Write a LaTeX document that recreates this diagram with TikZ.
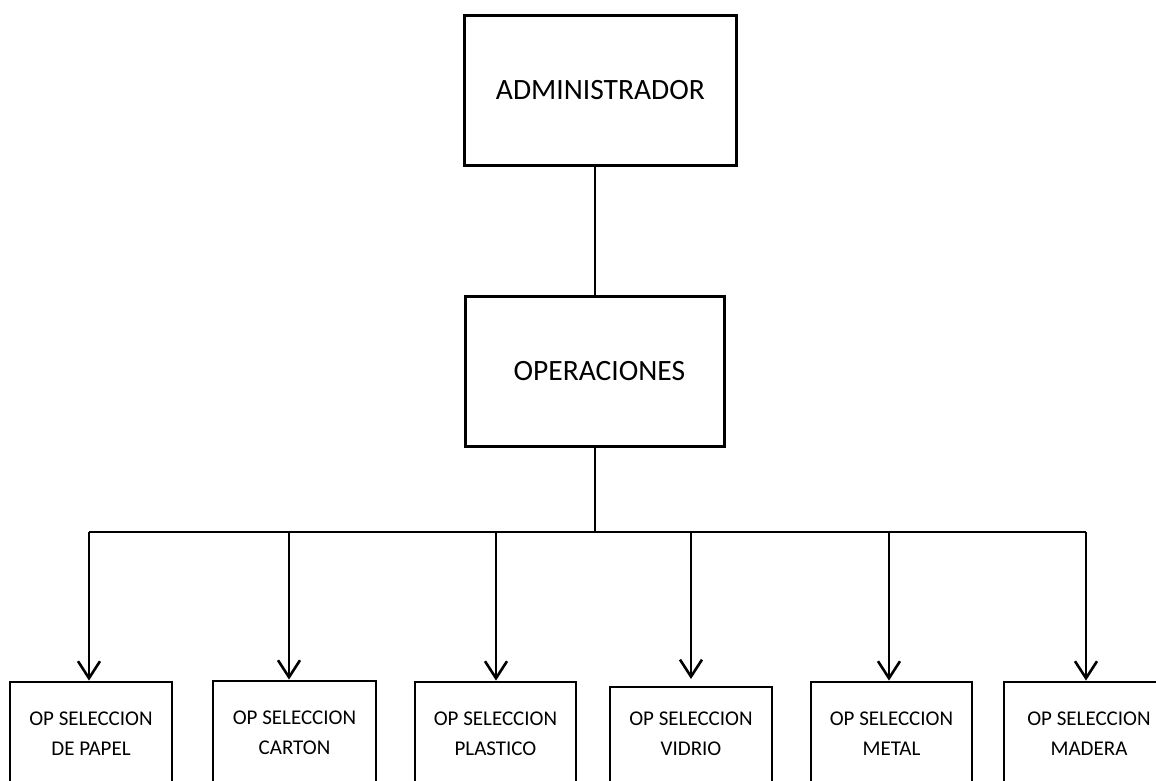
\documentclass[tikz,border=0pt]{standalone}
\usepackage{fontspec}
\setmainfont{Carlito}
\usetikzlibrary{arrows.meta}

\tikzset{
  topbox/.style={draw, line width=2.8pt, anchor=north west, inner sep=0pt,
    align=center, font=\fontsize{29.5}{34}\selectfont},
  leafbox/.style={anchor=north west, inner sep=0pt, outer sep=0pt,
    align=center, text depth=37pt, font=\fontsize{21}{29.5}\selectfont},
  frame/.style={line width=2.8pt, line join=miter},
  link/.style={line width=2.2pt},
  bus/.style={line width=2pt},
  drop/.style={line width=2.2pt,
    -{Straight Barb[length=17pt, width=22pt, line width=2.6pt]}}
}

\begin{document}
\begin{tikzpicture}[x=1pt, y=-1pt]
  \useasboundingbox (0,0) rectangle (1156,780);
  \fill[white] (0,0) rectangle (1156,780);
  \clip (0,0) rectangle (1156,780);

  % upper levels
  \node[topbox, minimum width=272pt, minimum height=150pt] (admin) at (463,14) {ADMINISTRADOR};
  \node[topbox, minimum width=259pt, minimum height=150pt] (oper) at (464,295) {\hspace*{9pt}OPERACIONES};

  % operator boxes (they run on past the lower edge of the sheet)
  \node[leafbox, minimum width=162pt, minimum height=140pt] (papel)    at (10,682)   {OP SELECCION\\DE PAPEL};
  \node[leafbox, minimum width=163pt, minimum height=140pt] (carton)   at (213,681)  {OP SELECCION\\CARTON};
  \node[leafbox, minimum width=161pt, minimum height=140pt] (plastico) at (415,682)  {OP SELECCION\\PLASTICO};
  \node[leafbox, minimum width=162pt, minimum height=130pt] (vidrio)   at (610,687)  {OP SELECCION\\VIDRIO};
  \node[leafbox, minimum width=161pt, minimum height=140pt] (metal)    at (811,682)  {OP SELECCION\\METAL};
  \node[leafbox, minimum width=170pt, minimum height=140pt] (madera)   at (1004,682) {OP SELECCION\\MADERA};

  \foreach \b in {papel, carton, plastico, vidrio, metal, madera}
    \draw[frame] (\b.south west) -- (\b.north west) -- (\b.north east) -- (\b.south east);

  % administrator to operations
  \draw[link] (oper.north |- admin.south) -- (oper.north);

  % taps on the distribution bus
  \coordinate (t1) at (89,532);
  \coordinate (t2) at (289,532);
  \coordinate (t3) at (496,532);
  \coordinate (t4) at (691,532);
  \coordinate (t5) at (889,532);
  \coordinate (t6) at (1086,532);
  \coordinate (hub) at (oper.south |- t1);

  % operations down to the bus, and the bus itself
  \draw[link] (oper.south) -- (hub);
  \draw[bus] (t1) -- (t6);

  \draw[drop] (t1) -- ([yshift=1.4pt]t1 |- papel.north);
  \draw[drop] (t2) -- ([yshift=1.4pt]t2 |- carton.north);
  \draw[drop] (t3) -- ([yshift=1.4pt]t3 |- plastico.north);
  \draw[drop] (t4) -- ([yshift=8pt]t4 |- vidrio.north);
  \draw[drop] (t5) -- ([yshift=1.4pt]t5 |- metal.north);
  \draw[drop] (t6) -- ([yshift=1.4pt]t6 |- madera.north);
\end{tikzpicture}
\end{document}
